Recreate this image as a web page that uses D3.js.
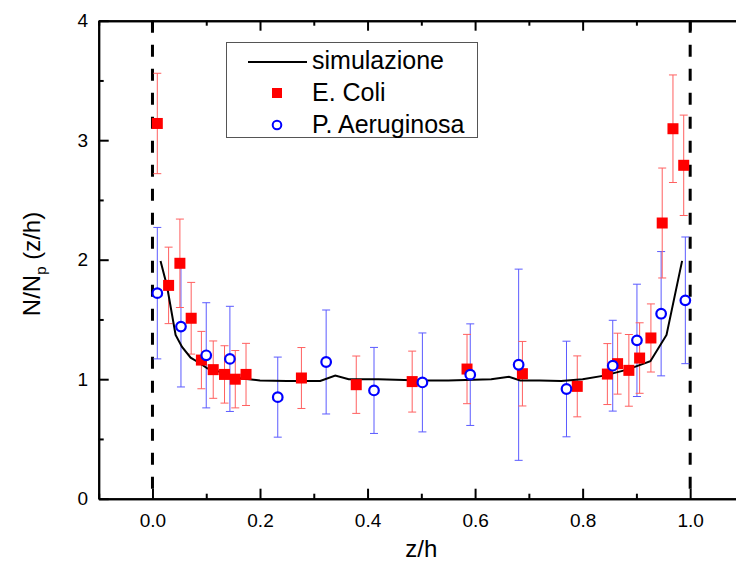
<!DOCTYPE html>
<html>
<head>
<meta charset="utf-8">
<script src="https://cdn.jsdelivr.net/npm/d3@7"></script>
<style>
  body { margin: 0; background: #fff; }
  svg { display: block; font-family: "Liberation Sans", Arial, sans-serif; }
</style>
</head>
<body>
<script>
// simulation curve
const simX = [0.015, 0.027, 0.043, 0.055, 0.071, 0.086, 0.102, 0.12, 0.157, 0.2, 0.25, 0.312, 0.34, 0.365, 0.42, 0.5, 0.55, 0.63, 0.663, 0.684, 0.72, 0.76, 0.8, 0.84, 0.883, 0.926, 0.956, 0.985];
const simY = [1.99, 1.78, 1.37, 1.27, 1.18, 1.14, 1.09, 1.07, 1.01, 0.99, 0.985, 0.985, 1.03, 1.0, 1.0, 0.99, 0.99, 1.0, 1.02, 0.99, 0.99, 0.985, 1.0, 1.03, 1.08, 1.15, 1.37, 1.99];

// E. Coli
const coliX = [0.009, 0.03, 0.051, 0.072, 0.091, 0.113, 0.134, 0.154, 0.174, 0.277, 0.379, 0.483, 0.585, 0.688, 0.79, 0.846, 0.865, 0.886, 0.906, 0.927, 0.948, 0.968, 0.988];
const coliY = [3.14, 1.785, 1.97, 1.51, 1.16, 1.08, 1.04, 1.0, 1.04, 1.01, 0.954, 0.98, 1.085, 1.046, 0.94, 1.043, 1.13, 1.074, 1.177, 1.345, 2.307, 3.096, 2.79];
const coliErr = [0.42, 0.32, 0.37, 0.3, 0.24, 0.24, 0.24, 0.24, 0.26, 0.255, 0.24, 0.255, 0.29, 0.27, 0.255, 0.255, 0.255, 0.3, 0.295, 0.285, 0.46, 0.45, 0.42];

// P. Aeruginosa
const aerX = [0.009, 0.053, 0.1, 0.144, 0.233, 0.323, 0.412, 0.502, 0.591, 0.681, 0.77, 0.856, 0.901, 0.946, 0.991];
const aerY = [1.72, 1.44, 1.2, 1.17, 0.85, 1.144, 0.906, 0.973, 1.038, 1.121, 0.918, 1.113, 1.325, 1.548, 1.66];
const aerErr = [0.55, 0.505, 0.44, 0.44, 0.335, 0.435, 0.36, 0.414, 0.425, 0.8, 0.4, 0.38, 0.47, 0.52, 0.53];

const xMajor = [0, 0.2, 0.4, 0.6, 0.8, 1.0];
const xMinor = [-0.1, 0.1, 0.3, 0.5, 0.7, 0.9, 1.1];
const yMajor = [0, 1, 2, 3, 4];
const yMinor = [0.5, 1.5, 2.5, 3.5];
const walls = [0, 1];

const width = 736, height = 568;
const plotLeft = 98.7, plotTop = 20.7, plotBottom = 498.7;
const unitX = 537.7;

const x = d3.scaleLinear().domain([-0.1, 1.1]).range([plotLeft, plotLeft + 1.2 * unitX]);
const y = d3.scaleLinear().domain([0, 4]).range([plotBottom, plotTop]);

const svg = d3.select("body").append("svg")
  .attr("width", width)
  .attr("height", height);

// dashed walls
svg.selectAll(".wall")
  .data(walls)
  .enter()
  .append("line")
  .attr("x1", d => x(d)).attr("x2", d => x(d))
  .attr("y1", plotTop).attr("y2", plotBottom)
  .attr("stroke", "#000")
  .attr("stroke-width", 3)
  .attr("stroke-dasharray", "12,12");

// error bars
function errorBars(xs, ys, es, color, cls) {
  const g = svg.append("g").attr("class", cls)
    .attr("stroke", color).attr("stroke-width", 1).attr("fill", "none");
  xs.forEach((xv, i) => {
    const cx = x(xv), y1 = y(ys[i] + es[i]), y2 = y(ys[i] - es[i]);
    g.append("line").attr("x1", cx).attr("x2", cx).attr("y1", y1).attr("y2", y2);
    g.append("line").attr("x1", cx - 4).attr("x2", cx + 4).attr("y1", y1).attr("y2", y1);
    g.append("line").attr("x1", cx - 4).attr("x2", cx + 4).attr("y1", y2).attr("y2", y2);
  });
}
errorBars(aerX, aerY, aerErr, "#5b5bff", "aer-err");
errorBars(coliX, coliY, coliErr, "#ff6060", "coli-err");

// simulation line
const line = d3.line().x(d => x(d[0])).y(d => y(d[1]));
svg.append("path")
  .datum(simX.map((v, i) => [v, simY[i]]))
  .attr("d", line)
  .attr("fill", "none")
  .attr("stroke", "#000")
  .attr("stroke-width", 2);

// markers
svg.selectAll(".coli")
  .data(coliX.map((v, i) => [v, coliY[i]]))
  .enter()
  .append("rect")
  .attr("class", "coli")
  .attr("x", d => x(d[0]) - 5.5)
  .attr("y", d => y(d[1]) - 5.5)
  .attr("width", 11).attr("height", 11)
  .attr("fill", "#ff0000");

svg.selectAll(".aer")
  .data(aerX.map((v, i) => [v, aerY[i]]))
  .enter()
  .append("circle")
  .attr("class", "aer")
  .attr("cx", d => x(d[0]))
  .attr("cy", d => y(d[1]))
  .attr("r", 4.8)
  .attr("fill", "#fff")
  .attr("stroke", "#0000ff")
  .attr("stroke-width", 2.2);

// axes (ticks inward)
function styleAxis(g) {
  g.selectAll("path, line").attr("stroke", "#000").attr("stroke-width", 2);
  g.selectAll("text").attr("fill", "#000").attr("font-size", 19)
    .attr("font-family", "'Liberation Sans', Arial, sans-serif");
}

svg.append("g").attr("transform", `translate(0,${plotBottom})`)
  .call(d3.axisBottom(x).tickValues(xMajor).tickFormat(d3.format(".1f"))
    .tickSizeInner(-10).tickSizeOuter(0).tickPadding(15))
  .call(styleAxis);
svg.append("g").attr("transform", `translate(0,${plotBottom})`)
  .call(d3.axisBottom(x).tickValues(xMinor).tickFormat("").tickSizeInner(-5).tickSizeOuter(0))
  .call(styleAxis);
svg.append("g").attr("transform", `translate(0,${plotTop})`)
  .call(d3.axisTop(x).tickValues(xMajor).tickFormat("").tickSizeInner(-10).tickSizeOuter(0))
  .call(styleAxis);
svg.append("g").attr("transform", `translate(0,${plotTop})`)
  .call(d3.axisTop(x).tickValues(xMinor).tickFormat("").tickSizeInner(-5).tickSizeOuter(0))
  .call(styleAxis);
svg.append("g").attr("transform", `translate(${plotLeft},0)`)
  .call(d3.axisLeft(y).tickValues(yMajor).tickFormat(d3.format("d"))
    .tickSizeInner(-10).tickSizeOuter(0).tickPadding(10.5))
  .call(styleAxis);
svg.append("g").attr("transform", `translate(${plotLeft},0)`)
  .call(d3.axisLeft(y).tickValues(yMinor).tickFormat("").tickSizeInner(-5).tickSizeOuter(0))
  .call(styleAxis);

// axis titles
svg.append("text")
  .attr("x", x(0.5)).attr("y", 557)
  .attr("text-anchor", "middle")
  .attr("font-size", 24)
  .text("z/h");

const yt = svg.append("text")
  .attr("transform", "translate(40,264) rotate(-90)")
  .attr("text-anchor", "middle")
  .attr("font-size", 24);
yt.append("tspan").text("N/N");
yt.append("tspan").attr("font-size", 15).attr("dy", 6).text("p");
yt.append("tspan").attr("dy", -6).text(" (z/h)");

// legend
const legend = svg.append("g").attr("id", "legend");
legend.append("rect")
  .attr("x", 226.5).attr("y", 42.5)
  .attr("width", 251).attr("height", 95)
  .attr("fill", "#fff")
  .attr("stroke", "#555")
  .attr("stroke-width", 1);
legend.append("line")
  .attr("x1", 248).attr("x2", 307).attr("y1", 62).attr("y2", 62)
  .attr("stroke", "#000").attr("stroke-width", 2);
legend.append("rect")
  .attr("x", 272).attr("y", 88).attr("width", 10).attr("height", 10)
  .attr("fill", "#ff0000");
legend.append("circle")
  .attr("cx", 277).attr("cy", 125).attr("r", 4.3)
  .attr("fill", "#fff").attr("stroke", "#0000ff").attr("stroke-width", 2);

const legendLabels = ["simulazione", "E. Coli", "P. Aeruginosa"];
const legendBase = [69, 101, 133];
legend.selectAll(".ltext")
  .data(legendLabels)
  .enter()
  .append("text")
  .attr("class", "ltext")
  .attr("x", 312)
  .attr("y", (d, i) => legendBase[i])
  .attr("font-size", 25)
  .text(d => d);
</script>
</body>
</html>
